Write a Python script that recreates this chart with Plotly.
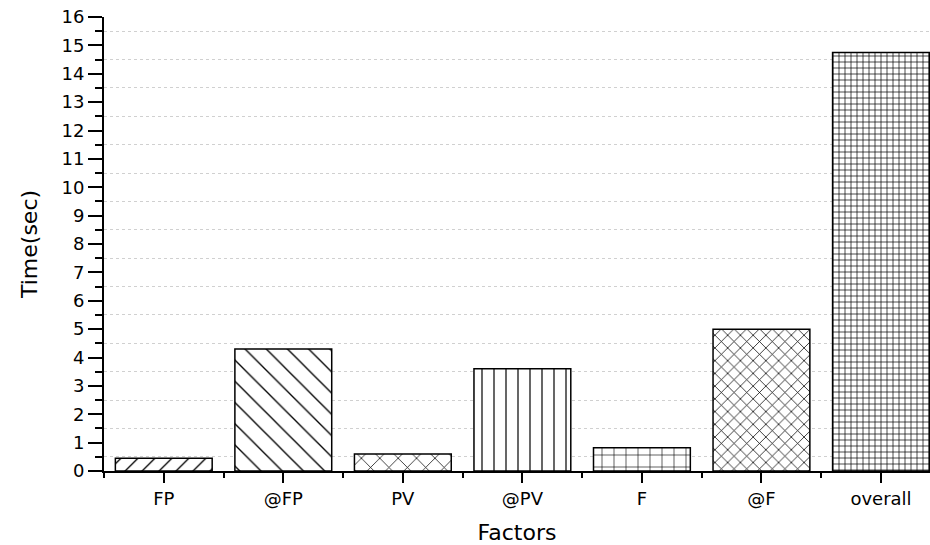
import plotly.graph_objects as go

categories = ["FP", "@FP", "PV", "@PV", "F", "@F", "overall"]
values = [0.45, 4.3, 0.6, 3.6, 0.82, 5.0, 14.75]
patterns = ["/", "\\", "x", "|", "+", "x", "+"]
pattern_sizes = [12, 15, 13, 12, 12, 9, 6]
pattern_solidity = [0.11, 0.09, 0.11, 0.1, 0.1, 0.16, 0.22]
y_ticks = list(range(0, 17))

xpos = list(range(len(categories)))

fig = go.Figure()
fig.add_trace(go.Bar(
    x=xpos, y=values, width=0.81,
    marker=dict(
        color="white",
        line=dict(color="black", width=1.5),
        pattern=dict(shape=patterns, size=pattern_sizes, solidity=pattern_solidity,
                     fgcolor="black", fgopacity=1, bgcolor="white", fillmode="replace"),
    ),
    showlegend=False,
    hoverinfo="skip",
))

fig.update_layout(
    width=930, height=545,
    margin=dict(l=104, r=0, t=17, b=74),
    paper_bgcolor="white", plot_bgcolor="white",
    font=dict(family="DejaVu Sans, Liberation Sans, Arial, sans-serif", color="black"),
    bargap=0.19,
)
fig.update_xaxes(
    range=[-0.5, 6.41],
    automargin=False,
    tickvals=xpos, ticktext=categories,
    tickfont=dict(size=18),
    ticklabeloverflow="allow",
    ticks="outside", ticklen=10, tickwidth=2, tickcolor="black",
    showline=True, linecolor="black", linewidth=2,
    showgrid=False, zeroline=False,
    minor=dict(tick0=0.5, dtick=1, ticks="outside", ticklen=5, tickwidth=2, tickcolor="black", showgrid=False),
    title=dict(text="Factors", font=dict(size=22), standoff=17),
)
fig.update_yaxes(
    range=[0, 16],
    automargin=False,
    tickvals=y_ticks,
    tickfont=dict(size=18),
    ticklabeloverflow="allow",
    ticks="outside", ticklen=14, tickwidth=2, tickcolor="black",
    showline=True, linecolor="black", linewidth=2,
    showgrid=False, zeroline=False,
    minor=dict(tick0=0.5, dtick=1, ticks="outside", ticklen=7, tickwidth=2, tickcolor="black",
               showgrid=True, gridcolor="#d0d0d0", griddash="dot", gridwidth=1),
    title=dict(text="Time(sec)", font=dict(size=22), standoff=18),
)

fig.write_html("out.html", config={"displayModeBar": False},
               post_script="document.body.style.margin='0';")
